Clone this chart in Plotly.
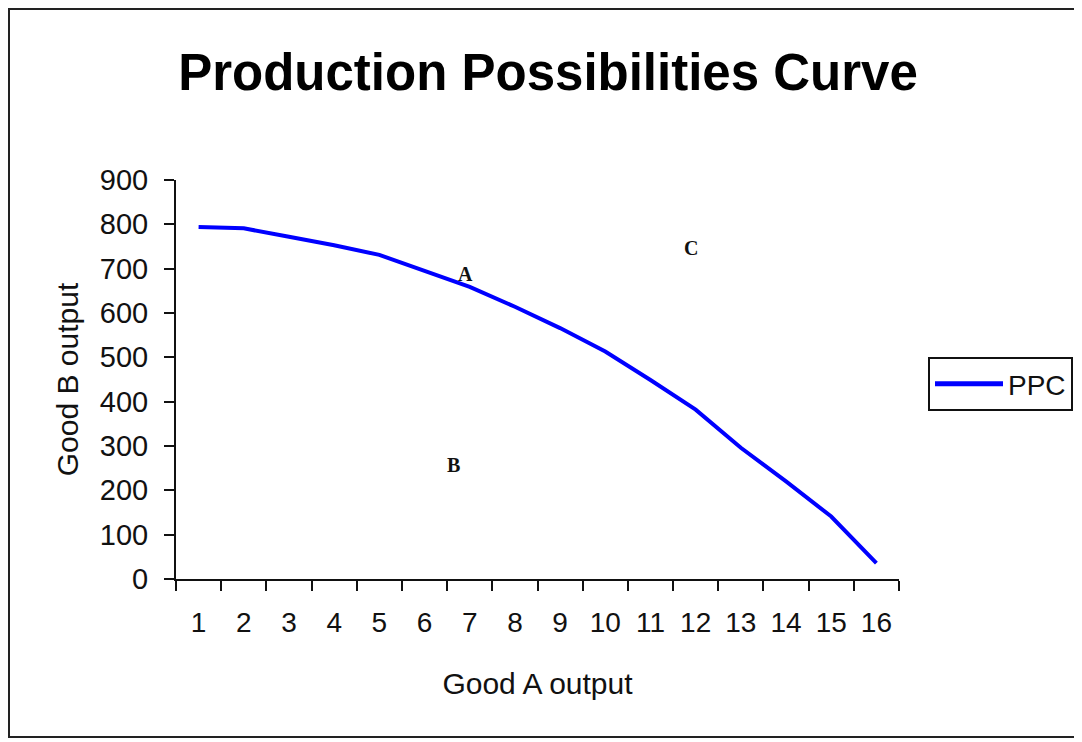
import plotly.graph_objects as go

# Data
good_a = [str(i) for i in range(1, 17)]
good_b = [794, 791, 772, 753, 731, 695, 659, 614, 566, 513, 449, 382, 296, 220, 141, 36]
y_ticks = [0, 100, 200, 300, 400, 500, 600, 700, 800, 900]

# Point labels: (text, category index position, value)
point_text = ["A", "B", "C"]
point_x = [5.906, 5.63, 10.896]
point_y = [689, 258, 747]

# The page body adds an 8px offset, so figure coords = reference coords - 8
W, H = 1074, 734
L, R, T, B = 168, 891, 172, 571  # plot area edges in figure pixels
pw, ph = R - L, B - T

fig = go.Figure()
fig.add_trace(go.Scatter(
    x=good_a, y=good_b, mode="lines", name="PPC",
    line=dict(color="#0000FF", width=4),
))

for t, px, py in zip(point_text, point_x, point_y):
    fig.add_annotation(x=px, y=py, xref="x", yref="y", text=f"<b>{t}</b>",
                       showarrow=False,
                       font=dict(family="Liberation Serif", size=20, color="#111"))

# Outer chart frame
fig.add_shape(type="rect", xref="paper", yref="paper",
              x0=(1 - L) / pw, x1=(1070 - L) / pw,
              y0=(B - 729) / ph, y1=(B - 1) / ph,
              line=dict(color="#222", width=2), fillcolor="rgba(0,0,0,0)", layer="below")

fig.update_layout(
    width=W, height=H,
    margin=dict(l=L, r=W - R, t=T, b=H - B, autoexpand=False),
    paper_bgcolor="white", plot_bgcolor="white",
    font=dict(family="Liberation Sans", color="#111"),
    title=dict(text="<b>Production Possibilities Curve</b>", x=540 / W, xanchor="center",
               y=1 - 64 / H, yanchor="middle", yref="container",
               font=dict(family="Liberation Sans", size=51, color="#000")),
    showlegend=True,
    legend=dict(x=(920 - L) / pw, y=(B - 376) / ph, xanchor="left", yanchor="middle",
                bordercolor="#111", borderwidth=2, bgcolor="white", itemwidth=68,
                tracegroupgap=0, itemsizing="constant",
                font=dict(family="Liberation Sans", size=28, color="#111")),
    xaxis=dict(type="category", categoryorder="array", categoryarray=good_a,
               range=[-0.5, 15.5], tickson="boundaries", ticks="outside", ticklen=10,
               tickwidth=2, tickcolor="#111", showline=True, linecolor="#111", linewidth=2,
               showgrid=False, zeroline=False, ticklabelstandoff=17,
               tickfont=dict(size=28, color="#111"),
               title=dict(text="Good A output", standoff=36,
                          font=dict(size=30, color="#111"))),
    yaxis=dict(range=[0, 900], tickvals=y_ticks, ticks="outside", ticklen=10, tickwidth=2,
               tickcolor="#111", showline=True, linecolor="#111", linewidth=2,
               showgrid=False, zeroline=False, ticklabelstandoff=10,
               tickfont=dict(size=29, color="#111"),
               title=dict(text="Good B output", standoff=12,
                          font=dict(size=30, color="#111"))),
)

fig.write_html("out.html")
